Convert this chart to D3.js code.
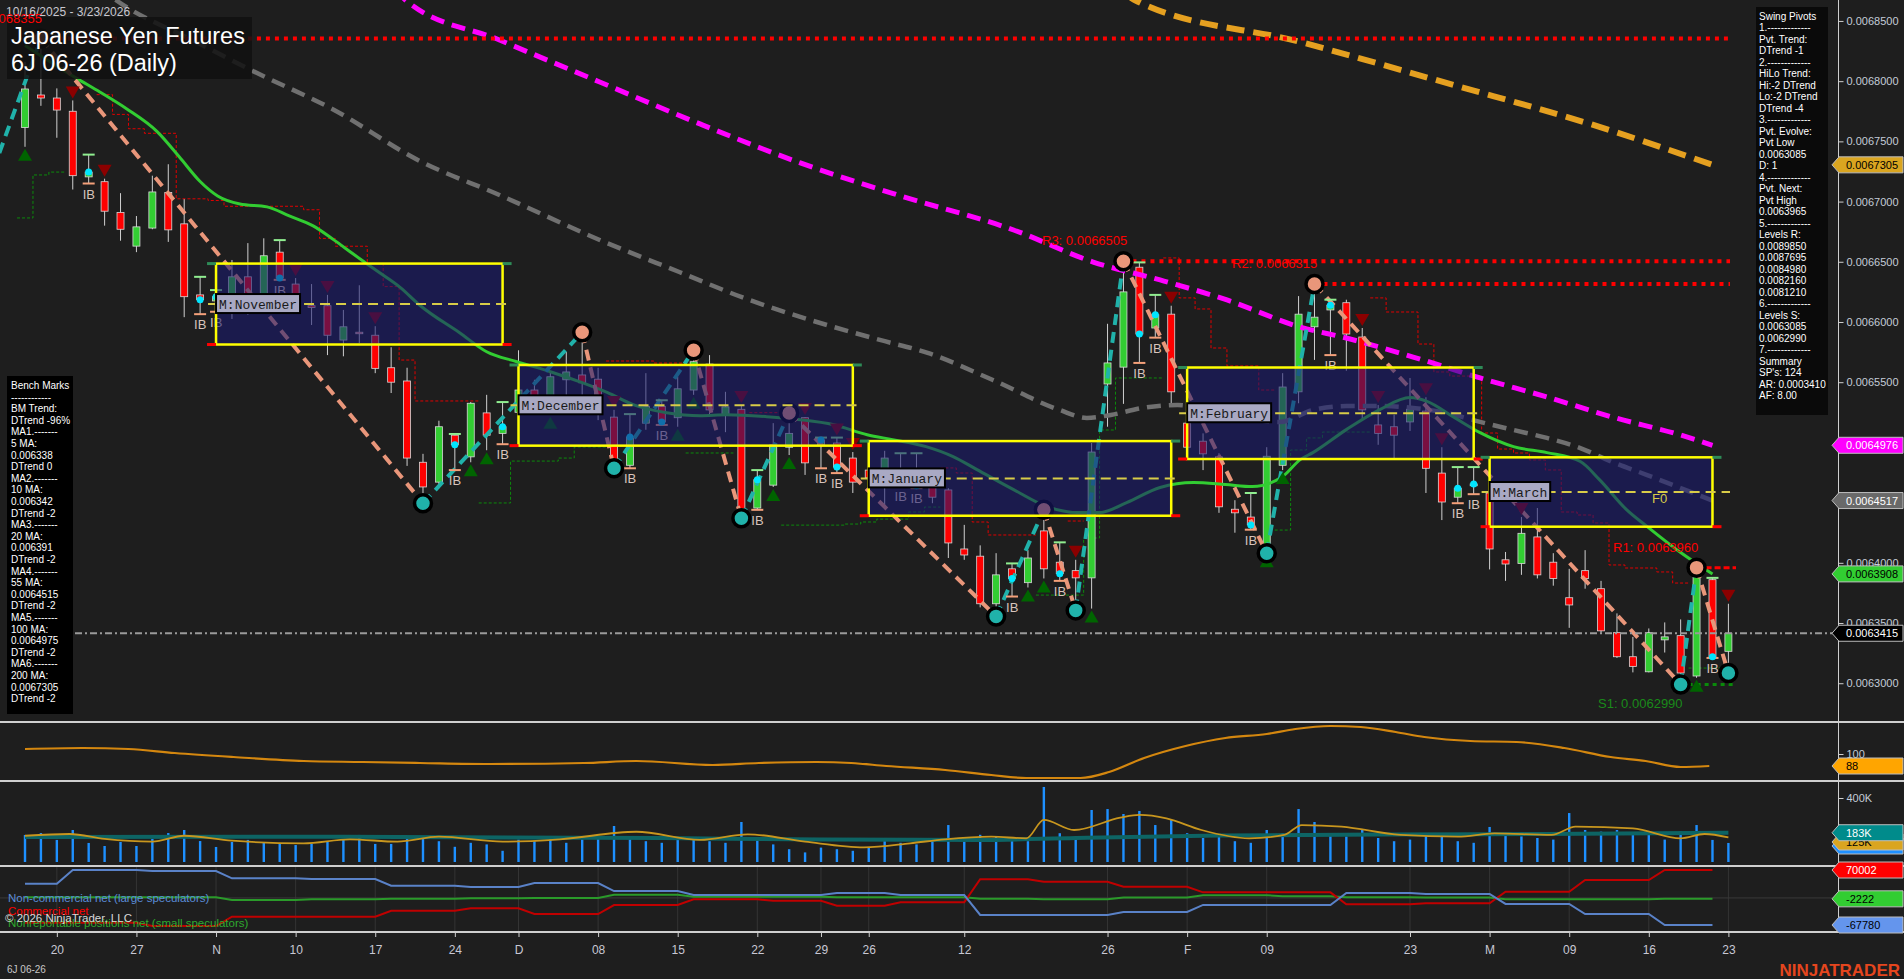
<!DOCTYPE html>
<html><head><meta charset="utf-8">
<script src="https://cdn.jsdelivr.net/npm/d3@7/dist/d3.min.js"></script>
<style>
html,body{margin:0;padding:0;background:#1e1e1e;overflow:hidden}
svg{display:block}
text{font-family:"Liberation Sans",Arial,sans-serif}
</style></head><body>
<svg id="chart" width="1904" height="979"></svg>
<script>
// ---------------- DATA ----------------
const dates = ["2025-10-16","2025-10-17","2025-10-20","2025-10-21","2025-10-22","2025-10-23","2025-10-24","2025-10-27","2025-10-28","2025-10-29","2025-10-30","2025-10-31",
"2025-11-03","2025-11-04","2025-11-05","2025-11-06","2025-11-07","2025-11-10","2025-11-11","2025-11-12","2025-11-13","2025-11-14","2025-11-17","2025-11-18","2025-11-19","2025-11-20","2025-11-21","2025-11-24","2025-11-25","2025-11-26","2025-11-28",
"2025-12-01","2025-12-02","2025-12-03","2025-12-04","2025-12-05","2025-12-08","2025-12-09","2025-12-10","2025-12-11","2025-12-12","2025-12-15","2025-12-16","2025-12-17","2025-12-18","2025-12-19","2025-12-22","2025-12-23","2025-12-24","2025-12-26","2025-12-29","2025-12-30","2025-12-31",
"2026-01-02","2026-01-05","2026-01-06","2026-01-07","2026-01-08","2026-01-09","2026-01-12","2026-01-13","2026-01-14","2026-01-15","2026-01-16","2026-01-20","2026-01-21","2026-01-22","2026-01-23","2026-01-26","2026-01-27","2026-01-28","2026-01-29","2026-01-30",
"2026-02-02","2026-02-03","2026-02-04","2026-02-05","2026-02-06","2026-02-09","2026-02-10","2026-02-11","2026-02-12","2026-02-13","2026-02-17","2026-02-18","2026-02-19","2026-02-20","2026-02-23","2026-02-24","2026-02-25","2026-02-26","2026-02-27",
"2026-03-02","2026-03-03","2026-03-04","2026-03-05","2026-03-06","2026-03-09","2026-03-10","2026-03-11","2026-03-12","2026-03-13","2026-03-16","2026-03-17","2026-03-18","2026-03-19","2026-03-20","2026-03-23"];

const tickDates = ["2025-10-20","2025-10-27","2025-11-03","2025-11-10","2025-11-17","2025-11-24","2025-12-01","2025-12-08","2025-12-15","2025-12-22","2025-12-29","2026-01-02","2026-01-12","2026-01-26","2026-02-02","2026-02-09","2026-02-23","2026-03-02","2026-03-09","2026-03-16","2026-03-23"];
const tickLabels = ["20","27","N","10","17","24","D","08","15","22","29","26","12","26","F","09","23","M","09","16","23"];

const open = [0.0067615,0.0067885,0.0067860,0.0067750,0.0067205,0.0067165,0.0066910,0.0066630,0.0066780,0.0067075,
0.0066815,0.0066225,0.0066175,0.0066150,0.0066375,0.0066175,0.0066580,0.0066315,0.0066135,0.0066135,
0.0065850,0.0065915,0.0065890,0.0065620,0.0065510,0.0064835,0.0064670,0.0065060,0.0064880,0.0065245,
0.0065075,0.0065250,0.0065435,0.0065270,0.0065520,0.0065560,0.0065525,0.0065210,0.0064810,0.0065160,
0.0065300,0.0065205,0.0065435,0.0065650,0.0065230,0.0065275,0.0064455,0.0064645,0.0064960,0.0065205,
0.0064980,0.0064995,0.0064870,0.0064770,0.0064645,0.0064770,0.0064715,0.0064630,0.0064605,0.0064115,
0.0064055,0.0063660,0.0063950,0.0063835,0.0064265,0.0064005,0.0063935,0.0063875,0.0065485,0.0065625,
0.0066455,0.0065950,0.0066065,0.0065160,0.0065010,0.0064880,0.0064445,0.0064380,0.0064130,0.0064810,
0.0065420,0.0065960,0.0066100,0.0066160,0.0065875,0.0065145,0.0065130,0.0065170,0.0065260,0.0064745,
0.0064545,0.0064640,0.0064580,0.0064025,0.0063995,0.0064215,0.0064005,0.0063710,0.0063935,0.0063785,
0.0063420,0.0063220,0.0063095,0.0063360,0.0063395,0.0063060,0.0063860,0.0063265];
const high = [0.0068160,0.0068355,0.0067940,0.0067840,0.0067390,0.0067190,0.0067070,0.0066880,0.0067215,0.0067310,
0.0067020,0.0066375,0.0066265,0.0066515,0.0066655,0.0066695,0.0066680,0.0066365,0.0066315,0.0066225,
0.0066100,0.0066305,0.0065965,0.0065790,0.0065620,0.0064905,0.0065180,0.0065070,0.0065335,0.0065395,
0.0065335,0.0065765,0.0065520,0.0065585,0.0065750,0.0065915,0.0065620,0.0065270,0.0065235,0.0065575,
0.0065350,0.0065545,0.0065765,0.0065725,0.0065420,0.0065310,0.0064770,0.0065160,0.0065245,0.0065210,
0.0065040,0.0065040,0.0064920,0.0064895,0.0064930,0.0064910,0.0064910,0.0064670,0.0064620,0.0064315,
0.0064145,0.0064080,0.0063995,0.0064105,0.0064440,0.0064170,0.0064025,0.0064995,0.0065985,0.0066505,
0.0066495,0.0066225,0.0066135,0.0065230,0.0065075,0.0064910,0.0064520,0.0064580,0.0064960,0.0065575,
0.0066215,0.0066315,0.0066185,0.0066185,0.0065950,0.0065310,0.0065230,0.0065535,0.0065375,0.0064960,
0.0064795,0.0064795,0.0064665,0.0064090,0.0064380,0.0064455,0.0064080,0.0063950,0.0064105,0.0063850,
0.0063580,0.0063385,0.0063455,0.0063505,0.0063530,0.0063960,0.0063875,0.0063660];
const low = [0.0067455,0.0067795,0.0067530,0.0067100,0.0067150,0.0066800,0.0066675,0.0066580,0.0066770,0.0066665,
0.0066040,0.0066065,0.0066085,0.0066025,0.0066060,0.0066165,0.0066350,0.0066085,0.0065975,0.0065725,
0.0065715,0.0065825,0.0065575,0.0065410,0.0064805,0.0064495,0.0064620,0.0064770,0.0064835,0.0064935,
0.0064985,0.0065185,0.0065230,0.0065230,0.0065350,0.0065375,0.0065185,0.0064785,0.0064785,0.0065105,
0.0065145,0.0065130,0.0065395,0.0065230,0.0065085,0.0064370,0.0064440,0.0064630,0.0064895,0.0064730,
0.0064785,0.0064745,0.0064580,0.0064605,0.0064465,0.0064640,0.0064620,0.0064495,0.0064040,0.0064025,
0.0063630,0.0063555,0.0063720,0.0063795,0.0063870,0.0063850,0.0063605,0.0063620,0.0065130,0.0065320,
0.0065660,0.0065870,0.0065320,0.0064880,0.0064770,0.0064415,0.0064250,0.0064275,0.0064080,0.0064770,
0.0065325,0.0065685,0.0065725,0.0065595,0.0065185,0.0064980,0.0064855,0.0065095,0.0064580,0.0064355,
0.0064495,0.0064570,0.0063945,0.0063850,0.0063900,0.0063870,0.0063810,0.0063460,0.0063785,0.0063420,
0.0063210,0.0063090,0.0063090,0.0063255,0.0062990,0.0063045,0.0063210,0.0063085];
const close = [0.0067935,0.0067860,0.0067760,0.0067215,0.0067245,0.0066920,0.0066770,0.0066790,0.0067080,0.0066765,
0.0066210,0.0066185,0.0066210,0.0066375,0.0066165,0.0066550,0.0066365,0.0066165,0.0066120,0.0065890,
0.0065960,0.0065910,0.0065615,0.0065500,0.0064870,0.0064630,0.0065130,0.0064980,0.0065325,0.0065060,
0.0065130,0.0065435,0.0065250,0.0065545,0.0065585,0.0065495,0.0065370,0.0064855,0.0065045,0.0065300,
0.0065170,0.0065445,0.0065670,0.0065270,0.0065295,0.0064445,0.0064690,0.0064980,0.0065075,0.0064830,
0.0065020,0.0064795,0.0064670,0.0064705,0.0064870,0.0064730,0.0064640,0.0064545,0.0064165,0.0064065,
0.0063660,0.0063900,0.0063870,0.0064040,0.0063950,0.0063910,0.0063875,0.0064920,0.0065660,0.0066250,
0.0065900,0.0066060,0.0065420,0.0064960,0.0064905,0.0064465,0.0064415,0.0064315,0.0064885,0.0065460,
0.0066065,0.0066040,0.0066140,0.0065900,0.0065270,0.0065075,0.0065060,0.0065275,0.0064785,0.0064505,
0.0064620,0.0064655,0.0064115,0.0063990,0.0064245,0.0063900,0.0063870,0.0063650,0.0063870,0.0063435,
0.0063220,0.0063140,0.0063420,0.0063385,0.0063085,0.0063935,0.0063220,0.0063415];

// volume in thousands
const volume = [169,181,138,200,119,100,125,100,144,181,200,131,94,125,138,119,119,106,113,131,138,169,113,113,144,
150,130,95,120,110,70,140,130,150,120,140,150,225,160,130,120,140,150,130,120,250,140,110,80,60,90,80,70,90,140,
120,110,130,231,150,170,160,140,130,469,180,150,325,331,300,319,231,263,180,150,160,130,120,200,180,331,250,180,160,200,
150,130,140,180,170,130,120,219,170,160,150,140,306,200,190,200,170,180,140,190,231,138,119];
const volAvgSlow = [[0,156],[20,158],[40,150],[50,140],[60,138],[66,150],[75,165],[85,172],[95,175],[107,183]];
const volAvgFast = [[0,164],[2.8,175],[5,144],[8,127],[10,164],[13,133],[17.5,117],[20.4,142],[23.4,127],[26,158],[30,127],[33.6,142],[38.4,189],[42.4,138],[45.4,173],[49,127],[52.7,92],[55.6,117],[57.8,142],[60.7,158],[62.9,148],[64,263],[65.9,200],[68.8,277],[70,294],[71.7,273],[73.9,200],[76.9,148],[79.1,169],[80.2,231],[82.7,221],[86.4,169],[90,158],[92.3,179],[95.9,169],[97.4,221],[101,210],[104,148],[105.5,175],[107,154]];

// moving averages [barIndex, price]
const ma20 = [[0,0.0068297],[3.2,0.0068027],[4.7,0.006791],[6.4,0.0067769],[8.3,0.0067581],[9.7,0.006737],[11,0.0067167],[12.1,0.0067047],[13.5,0.006698],[15.2,0.0066956],[16.6,0.0066881],[18.1,0.0066798],[19.4,0.0066682],[20.6,0.0066566],[22.1,0.0066425],[23.6,0.0066284],[24.8,0.0066139],[27.3,0.0065911],[29,0.0065753],[30.9,0.006567],[33,0.0065587],[35,0.0065496],[36.6,0.0065413],[38.2,0.0065314],[40.3,0.0065247],[42.4,0.0065222],[44.1,0.006523],[46.6,0.0065214],[48.7,0.0065189],[50.8,0.0065147],[52.9,0.0065064],[54.5,0.0065023],[56.6,0.0064965],[58.3,0.0064882],[59.8,0.0064774],[62.1,0.0064608],[64.2,0.0064467],[66.1,0.0064417],[67.5,0.0064417],[69.2,0.00645],[71.3,0.0064625],[73.4,0.0064666],[75.4,0.006465],[77.1,0.0064633],[79,0.0064716],[80.1,0.0064857],[80.9,0.0064915],[83,0.0065106],[85.1,0.0065272],[87,0.0065372],[88.1,0.0065339],[89.7,0.0065214],[91.4,0.0065081],[93.5,0.0064965],[95.6,0.0064915],[97.7,0.0064841],[98.9,0.0064691],[100.6,0.0064442],[101.9,0.0064301],[104,0.0064085],[106,0.0063908]];
const ma55 = [[3.5,0.00689],[5.7,0.0068674],[11,0.0068309],[14.3,0.0068085],[19.3,0.0067769],[24.8,0.0067337],[29.8,0.0067055],[36.1,0.0066681],[41.1,0.0066415],[45.5,0.0066183],[48.7,0.0066042],[53.7,0.0065851],[56.7,0.0065743],[60.8,0.0065518],[65,0.0065269],[66.7,0.0065203],[68.2,0.0065228],[70.2,0.0065286],[72.4,0.0065311],[74.4,0.0065269],[78.8,0.006517],[80.9,0.0065269],[83,0.0065302],[85.1,0.0065302],[87.2,0.0065286],[89.3,0.0065244],[91.4,0.006517],[93.5,0.0065103],[95.6,0.0065037],[97.7,0.0064953],[99.7,0.0064837],[101.9,0.0064729],[104,0.0064621],[106,0.0064517]];
const ma100 = [[22.5,0.00689],[23.9,0.0068674],[29.8,0.0068342],[36.1,0.0067993],[42.4,0.0067645],[48.7,0.0067321],[55,0.0067047],[62.1,0.0066764],[67.1,0.0066498],[71.3,0.0066349],[75.5,0.0066183],[80.1,0.0065958],[83,0.0065867],[87.2,0.0065709],[91.4,0.0065535],[95.6,0.0065377],[99.7,0.0065211],[104,0.0065061],[106,0.0064976]];
const ma200 = [[68,0.00689],[69.7,0.0068674],[80.1,0.0068326],[89.5,0.0067977],[98.9,0.006762],[106,0.0067305]];

// swing pivots
const pivotIdx = [-2,1,25,35,37,42,45,48,61,64,66,69,78,81,104,105,107];
const pivotPrice = [0.0067262,0.0068355,0.0064495,0.0065915,0.0064785,0.0065765,0.006437,0.0065245,0.0063555,0.006444,0.0063605,0.0066505,0.006408,0.0066315,0.006299,0.006396,0.0063085];
const pivotType = ["L","H","L","H","L","H","L","H","L","H","L","H","L","H","L","H","L"];

// trailing stop steps [fromBar, toBar, price]
const redStop = [[5,5,0.0067888],[6,6,0.0067724],[7,7,0.0067605],[8,9,0.0067567],[10,11,0.0067023],[12,12,0.0067009],[13,17,0.0066961],[18,18,0.0066932],[19,19,0.0066694],[20,21,0.0066629],[22,22,0.0066486],[23,23,0.0066294],[24,24,0.0065684],[25,28,0.0065344],
[37,39,0.0065676],[40,41,0.0065659],[46,47,0.0065247],[58,58,0.0064788],[59,59,0.0064746],[60,60,0.0064339],[61,63,0.0064231],[66,66,0.0064347],
[72,72,0.0066532],[73,73,0.00662],[74,74,0.0066108],[75,75,0.0065784],[76,77,0.0065635],[78,78,0.0065435],
[85,85,0.00662],[86,87,0.0066083],[88,88,0.0065817],[89,89,0.0065585],[90,91,0.0065551],[92,92,0.0065078],[93,93,0.0064945],[94,94,0.0064912],[95,95,0.0064854],[96,96,0.0064771],[97,97,0.0064422],[98,98,0.0064397],[99,99,0.0064331],[100,100,0.0063982],[101,102,0.0063957],[103,103,0.0063924],[104,104,0.0063832]];
const greenStop = [[0,0,0.0066864],[1,1,0.0067221],[2,2,0.0067245],[29,30,0.0064497],[31,33,0.0064845],[34,34,0.006487],[35,36,0.0064962],[42,44,0.0064912],
[48,51,0.0064313],[52,52,0.0064322],[53,53,0.0064339],[54,55,0.0064363],[56,56,0.0064422],[57,57,0.0064463],[64,66,0.0063732],[67,67,0.0064206],[68,68,0.0065103],[69,71,0.0065535],
[79,79,0.0064272],[80,80,0.0064937],[81,81,0.0065037],[82,84,0.0065086],[105,106,0.0063126]];

// bar markers
const insideBars = [4,11,12,16,27,30,38,40,46,50,51,55,56,62,65,70,71,77,82,90,91,106];
const downTriBars = [3,5,17,19,22,37,45,49,51,52,57,66,72,84,85,88,89,94,107];
const upTriBars = [0,28,29,33,34,41,42,47,48,63,64,67,78,79,105];

// monthly boxes
const boxNames = ["November","December","January","February","March"];
const boxStart = [12,31,53,73,92];
const boxEnd = [30,52,72,91,106];
const boxTop = [0.0066485,0.0065643,0.0065011,0.0065622,0.0064876];
const boxBottom = [0.0065813,0.0064973,0.0064391,0.0064862,0.00643];

// levels
const levelTop = 0.0068355;
const levelR3 = 0.0066505, levelR2 = 0.0066315, levelR1 = 0.006396, levelS1 = 0.006299;
const lastPrice = 0.0063415;

// oscillator panel
const osc = [[0,105],[3.6,106],[6.5,105],[9.4,101],[13.1,97],[17.5,93],[21.2,92],[24.8,91],[29.2,90],[35.1,91],[38.4,93],[43.2,89],[46.1,91],[49.7,92],[51.9,91],[54.1,88],[57.8,84],[60.7,79],[62.9,76],[66.3,76],[68.1,82],[70.3,96],[72.9,108],[75.4,116],[78,120],[79.8,125],[82,128],[83.9,127],[86.1,122],[87.9,117],[90.8,113],[93.7,112],[96.7,106],[99.6,97],[101.8,93],[104,87],[105.8,88]];

// COT weekly (thousands of contracts)
const cotIdx = [0,3,8,13,18,23,28,32,37,42,47,51,55,60,64,69,74,79,83,88,93,98,103];
const cotNonComm = [35.6,69.9,67.4,49.1,47.3,30.6,27.3,37.3,17.3,7.3,7.3,12.3,7.3,-42.6,-42.6,-35.1,-17.5,-17.5,12.3,10.0,-15.0,-40.3,-67.78];
const cotComm = [-62,-62,-70.4,-47.1,-47.1,-32.1,-26.0,-40.3,-17.8,-3.5,-7.0,-19.5,-11.0,46.8,40.6,28.0,14.0,14.0,-16.0,-13.5,15.5,44.8,70.002];
const cotNonRep = [1.5,1.5,1.5,-5.0,-3.0,-2.0,-1.0,0.0,8.0,3.0,3.0,2.0,2.0,-2.0,-3.0,1.0,7.0,4.0,2.0,1.0,-3.5,-3.0,-2.222];

const priceTicks = [0.0063,0.00635,0.0064,0.00645,0.0065,0.00655,0.0066,0.00665,0.0067,0.00675,0.0068,0.00685];

const benchLines = ["Bench Marks","------------","BM Trend:","DTrend -96%","MA1.-------","5 MA:","0.006338","DTrend 0","MA2.-------","10 MA:","0.006342","DTrend -2","MA3.-------","20 MA:","0.006391","DTrend -2","MA4.-------","55 MA:","0.0064515","DTrend -2","MA5.-------","100 MA:","0.0064975","DTrend -2","MA6.-------","200 MA:","0.0067305","DTrend -2"];
const swingLines = ["Swing Pivots","1.-------------","Pvt. Trend:","DTrend -1","2.-------------","HiLo Trend:","Hi:-2 DTrend","Lo:-2 DTrend","DTrend -4","3.-------------","Pvt. Evolve:","Pvt Low","0.0063085","D: 1","4.-------------","Pvt. Next:","Pvt High","0.0063965","5.-------------","Levels R:","0.0089850","0.0087695","0.0084980","0.0082160","0.0081210","6.-------------","Levels S:","0.0063085","0.0062990","7.-------------","Summary","SP's: 124","AR: 0.0003410","AF: 8.00"];

// ---------------- DRAW ----------------
const svg = d3.select("#chart");
const x = d3.scaleLinear().domain([0,107]).range([25,1728.4]);
const y = d3.scaleLinear().domain([0.0062678,0.0068674]).range([722,0]);
const oy = d3.scaleLinear().domain([73,132]).range([781,722]);
const vy = d3.scaleLinear().domain([0,400]).range([862,798]);
const cy = d3.scaleLinear().domain([-67.78,70.002]).range([925,870]);
const fmt7 = d3.format(".7f");
const idxOf = d => dates.indexOf(d);

svg.append("rect").attr("width",1904).attr("height",979).attr("fill","#1e1e1e");
const defs = svg.append("defs");
[["cMain",0,0,1838,722],["cOsc",0,722,1838,59],["cVol",0,781,1838,85],["cCot",0,866,1838,66]].forEach(c=>{
  defs.append("clipPath").attr("id",c[0]).append("rect").attr("x",c[1]).attr("y",c[2]).attr("width",c[3]).attr("height",c[4]);
});

const main = svg.append("g").attr("clip-path","url(#cMain)");
const bars = dates.map((d,i)=>({i,d,o:open[i],h:high[i],l:low[i],c:close[i]}));

// stop lines
function stepRuns(segs){
  const runs=[]; let cur=null, lastEnd=-99;
  segs.forEach(([a,b,p])=>{
    if(cur && lastEnd===a-1){ cur.push([a-0.5,p],[b+0.5,p]); }
    else { cur=[[a-0.5,p],[b+0.5,p]]; runs.push(cur); }
    lastEnd=b;
  });
  return runs;
}
const lineXY = d3.line().x(d=>x(d[0])).y(d=>y(d[1]));
main.append("g").selectAll("path").data(stepRuns(redStop)).join("path")
  .attr("d",lineXY).attr("fill","none").attr("stroke","#e00000").attr("stroke-width",1).attr("stroke-dasharray","3 2");
main.append("g").selectAll("path").data(stepRuns(greenStop)).join("path")
  .attr("d",lineXY).attr("fill","none").attr("stroke","#0c8a0c").attr("stroke-width",1).attr("stroke-dasharray","3 2");

// candles
const gC = main.append("g");
gC.selectAll("line").data(bars).join("line")
  .attr("x1",b=>x(b.i)).attr("x2",b=>x(b.i)).attr("y1",b=>y(b.h)).attr("y2",b=>y(b.l))
  .attr("stroke","#d0d0d0").attr("stroke-width",1);
gC.selectAll("rect").data(bars).join("rect")
  .attr("x",b=>x(b.i)-3.5).attr("width",7)
  .attr("y",b=>y(Math.max(b.o,b.c))).attr("height",b=>Math.max(1.5,Math.abs(y(b.o)-y(b.c))))
  .attr("fill",b=>b.c>=b.o?"#32cd32":"#ff0000").attr("stroke","#d8d8d8").attr("stroke-width",0.8);

// moving averages
const maLine = d3.line().x(d=>x(d[0])).y(d=>y(d[1])).curve(d3.curveMonotoneX);
main.append("path").attr("d",maLine(ma55)).attr("fill","none").attr("stroke","#707070").attr("stroke-width",4.5).attr("stroke-dasharray","14 8");
main.append("path").attr("d",maLine(ma100)).attr("fill","none").attr("stroke","#ff00ff").attr("stroke-width",5).attr("stroke-dasharray","14 8");
main.append("path").attr("d",maLine(ma200)).attr("fill","none").attr("stroke","#e5a020").attr("stroke-width",6).attr("stroke-dasharray","18 9");
main.append("path").attr("d",maLine(ma20)).attr("fill","none").attr("stroke","#32cd32").attr("stroke-width",3);

// resistance / support levels
function hLevel(p,i0,x1,color,w,dash){
  main.append("line").attr("x1",x(i0)).attr("x2",x1).attr("y1",y(p)).attr("y2",y(p))
    .attr("stroke",color).attr("stroke-width",w).attr("stroke-dasharray",dash);
}
hLevel(levelTop,1,1730,"#ff0000",4,"4 5");
hLevel(levelR3,69,1730,"#ff0000",4,"4 5");
hLevel(levelR2,81,1730,"#ff0000",4,"4 5");
hLevel(levelR1,105,1736,"#ff0000",3,"6 3");
hLevel(levelS1,104,1736,"#0a8a0a",3,"4 4");

// zigzag
const legs = d3.range(pivotIdx.length-1);
main.append("g").selectAll("line").data(legs).join("line")
  .attr("x1",k=>x(pivotIdx[k])).attr("y1",k=>y(pivotPrice[k]))
  .attr("x2",k=>x(pivotIdx[k+1])).attr("y2",k=>y(pivotPrice[k+1]))
  .attr("stroke",k=>pivotType[k]==="L"?"#20b2aa":"#e9967a")
  .attr("stroke-width",4).attr("stroke-dasharray","11 7");

// triangles
const gM = main.append("g");
gM.selectAll("path.dn").data(downTriBars).join("path").attr("class","dn")
  .attr("d",i=>{const cx=x(i), b=y(high[i])-2; return `M${cx-7},${b-12}L${cx+7},${b-12}L${cx},${b}Z`;})
  .attr("fill","#8b0000");
gM.selectAll("path.up").data(upTriBars).join("path").attr("class","up")
  .attr("d",i=>{const cx=x(i), t=y(low[i])+2; return `M${cx-7},${t+12}L${cx+7},${t+12}L${cx},${t}Z`;})
  .attr("fill","#006400");

// inside bars
const gIB = main.append("g");
insideBars.forEach(i=>{
  const cx=x(i);
  gIB.append("line").attr("x1",cx-6).attr("x2",cx+6).attr("y1",y(high[i])).attr("y2",y(high[i])).attr("stroke","#90ee90").attr("stroke-width",2);
  gIB.append("line").attr("x1",cx-6).attr("x2",cx+6).attr("y1",y(low[i])).attr("y2",y(low[i])).attr("stroke","#f4a07a").attr("stroke-width",2);
  gIB.append("circle").attr("cx",cx).attr("cy",y(close[i])).attr("r",3.5).attr("fill","#00e5ff");
  gIB.append("text").attr("x",cx-6).attr("y",y(low[i])+15).text("IB").attr("fill","#d8c4bc").attr("font-size",13);
});

// pivot circles
main.append("g").selectAll("circle").data(d3.range(1,pivotIdx.length)).join("circle")
  .attr("cx",k=>x(pivotIdx[k])).attr("cy",k=>y(pivotPrice[k])).attr("r",8.5)
  .attr("fill",k=>pivotType[k]==="H"?"#e9967a":"#20b2aa").attr("stroke","#000").attr("stroke-width",3.5);

// month boxes (overlay)
const gB = main.append("g");
boxNames.forEach((nm,k)=>{
  const x0=x(boxStart[k]), x1=x(boxEnd[k]), yt=y(boxTop[k]), yb=y(boxBottom[k]);
  const ym=y((boxTop[k]+boxBottom[k])/2);
  gB.append("rect").attr("x",x0).attr("y",yt).attr("width",x1-x0).attr("height",yb-yt)
    .attr("fill","#191970").attr("fill-opacity",0.58).attr("stroke","#ffff00").attr("stroke-width",2.5);
  [[x0-9,x0],[x1,x1+9]].forEach(s=>{
    gB.append("line").attr("x1",s[0]).attr("x2",s[1]).attr("y1",yt).attr("y2",yt).attr("stroke","#2e8b57").attr("stroke-width",3);
    gB.append("line").attr("x1",s[0]).attr("x2",s[1]).attr("y1",yb).attr("y2",yb).attr("stroke","#ff0000").attr("stroke-width",3);
  });
  gB.append("line").attr("x1",x0-8).attr("x2",k===4?1730:x1+8).attr("y1",ym).attr("y2",ym)
    .attr("stroke","#d8cc48").attr("stroke-width",2).attr("stroke-dasharray","10 6");
  const label="M:"+nm, w=label.length*7.8+6;
  gB.append("rect").attr("x",x0).attr("y",ym-10).attr("width",w).attr("height",19)
    .attr("fill","#a9a9c4").attr("stroke","#000").attr("stroke-width",2);
  gB.append("text").attr("x",x0+3).attr("y",ym+4.5).text(label).attr("fill","#1a1a1a")
    .attr("font-size",13).style("font-family","'Liberation Mono','Courier New',monospace");
});
gB.append("text").attr("x",1652).attr("y",503).text("F0").attr("fill","#d8cc48").attr("font-size",13);

// last price dash-dot
main.append("line").attr("x1",75).attr("x2",1838).attr("y1",y(lastPrice)).attr("y2",y(lastPrice))
  .attr("stroke","#9a9a9a").attr("stroke-width",1.8).attr("stroke-dasharray","7 3 2 3");

// level labels
main.append("text").attr("x",1042).attr("y",y(levelR3)-16).text("R3: "+fmt7(levelR3)).attr("fill","#ff0000").attr("font-size",13);
main.append("text").attr("x",1232).attr("y",y(levelR2)-16).text("R2: "+fmt7(levelR2)).attr("fill","#ff0000").attr("font-size",13);
main.append("text").attr("x",1613).attr("y",y(levelR1)-16).text("R1: "+fmt7(levelR1)).attr("fill","#ff0000").attr("font-size",13);
main.append("text").attr("x",1598).attr("y",y(levelS1)+24).text("S1: "+fmt7(levelS1)).attr("fill","#1a8a1a").attr("font-size",13);

// ---------- oscillator panel ----------
const gO = svg.append("g").attr("clip-path","url(#cOsc)");
gO.append("path").attr("d",d3.line().x(d=>x(d[0])).y(d=>oy(d[1])).curve(d3.curveMonotoneX)(osc))
  .attr("fill","none").attr("stroke","#d4870f").attr("stroke-width",2.2);

// ---------- volume panel ----------
const gV = svg.append("g").attr("clip-path","url(#cVol)");
gV.selectAll("rect").data(bars).join("rect")
  .attr("x",b=>x(b.i)-1.2).attr("width",2.4).attr("y",b=>vy(volume[b.i])).attr("height",b=>vy(0)-vy(volume[b.i]))
  .attr("fill","#1e90ff");
const vLine = d3.line().x(d=>x(d[0])).y(d=>vy(d[1])).curve(d3.curveMonotoneX);
gV.append("path").attr("d",vLine(volAvgSlow)).attr("fill","none").attr("stroke","#0d6464").attr("stroke-width",4);
gV.append("path").attr("d",vLine(volAvgFast)).attr("fill","none").attr("stroke","#c8961e").attr("stroke-width",1.8);

// ---------- COT panel ----------
const gK = svg.append("g").attr("clip-path","url(#cCot)");
gK.selectAll("line.grid").data(tickDates).join("line").attr("class","grid")
  .attr("x1",d=>x(idxOf(d))).attr("x2",d=>x(idxOf(d))).attr("y1",866).attr("y2",932)
  .attr("stroke","#343434").attr("stroke-width",1);
gK.append("line").attr("x1",0).attr("x2",1838).attr("y1",cy(0)).attr("y2",cy(0)).attr("stroke","#3a3a3a");
function cotPts(vals){
  const pts=[];
  vals.forEach((v,k)=>{
    pts.push([cotIdx[k],v]);
    pts.push([k<vals.length-1?cotIdx[k+1]-1:106,v]);
  });
  return pts;
}
const cLine = d3.line().x(d=>x(d[0])).y(d=>cy(d[1]));
gK.append("path").attr("d",cLine(cotPts(cotNonRep))).attr("fill","none").attr("stroke","#2a9a2a").attr("stroke-width",2);
gK.append("path").attr("d",cLine(cotPts(cotComm))).attr("fill","none").attr("stroke","#c00000").attr("stroke-width",2);
gK.append("path").attr("d",cLine(cotPts(cotNonComm))).attr("fill","none").attr("stroke","#5a82c8").attr("stroke-width",2);
const leg = svg.append("g").attr("font-size",11.5);
leg.append("text").attr("x",8).attr("y",902).text("Non-commercial net (large speculators)").attr("fill","#5b8dd9");
leg.append("text").attr("x",8).attr("y",915).text("Commercial net").attr("fill","#ff0000");
leg.append("text").attr("x",8).attr("y",927).text("Nonreportable positions net (small speculators)").attr("fill","#2eaa2e");
leg.append("text").attr("x",5).attr("y",922).text("© 2026 NinjaTrader, LLC").attr("fill","#d8d8d8");

// ---------- separators & axes ----------
[722,781,866,932].forEach(v=>svg.append("line").attr("x1",0).attr("x2",1904).attr("y1",v).attr("y2",v).attr("stroke","#cfcfcf").attr("stroke-width",2));
svg.append("line").attr("x1",1838.5).attr("x2",1838.5).attr("y1",0).attr("y2",932).attr("stroke","#cfcfcf").attr("stroke-width",1);

function styleAxis(g,col,fs){
  g.select(".domain").remove();
  g.selectAll("line").attr("stroke","#cfcfcf");
  g.selectAll("text").attr("fill",col).attr("font-size",fs).style("font-family","'Liberation Sans',Arial,sans-serif");
}
svg.append("g").attr("transform","translate(1838.5,0)")
  .call(d3.axisRight(y).tickValues(priceTicks).tickFormat(fmt7).tickSize(5).tickPadding(3))
  .call(g=>styleAxis(g,"#c4ccd8",11));
svg.append("g").attr("transform","translate(1838.5,0)")
  .call(d3.axisRight(oy).tickValues([100]).tickFormat(d3.format("d")).tickSize(5).tickPadding(3))
  .call(g=>styleAxis(g,"#c4ccd8",11));
svg.append("g").attr("transform","translate(1838.5,0)")
  .call(d3.axisRight(vy).tickValues([0,400]).tickFormat(d=>d?d+"K":"").tickSize(5).tickPadding(3))
  .call(g=>styleAxis(g,"#c4ccd8",11));
svg.append("g").attr("transform","translate(0,932)")
  .call(d3.axisBottom(x).tickValues(tickDates.map(idxOf)).tickFormat((d,k)=>tickLabels[k]).tickSize(5).tickPadding(8))
  .call(g=>styleAxis(g,"#c8c8d4",12));

// flags on axis
function flag(yv,text,bg,fg){
  const g=svg.append("g");
  g.append("path").attr("d",`M1832,${yv}L1839,${yv-8}L1903,${yv-8}L1903,${yv+8}L1839,${yv+8}Z`)
    .attr("fill",bg).attr("stroke","#bdbdbd").attr("stroke-width",1);
  g.append("text").attr("x",1846).attr("y",yv+4).text(text).attr("fill",fg).attr("font-size",11);
}
[[0.0067305,"#daa520","#000"],[0.0064976,"#ff00ff","#fff"],[0.0064517,"#696969","#fff"],[0.0063908,"#32cd32","#000"],[0.0063415,"#000000","#fff"]]
  .forEach(f=>flag(y(f[0]),fmt7(f[0]),f[1],f[2]));
flag(oy(88),"88","#ffa500","#000");
flag(vy(100),"100K","#1e90ff","#fff");
flag(vy(125),"125K","#daa520","#000");
flag(vy(183),"183K","#008b8b","#fff");
flag(cy(70.002),"70002","#ff0000","#fff");
flag(cy(-2.222),"-2222","#32cd32","#000");
flag(cy(-67.78),"-67780","#6495ed","#000");

// ---------- info panels ----------
const bp = svg.append("g");
bp.append("rect").attr("x",7).attr("y",376).attr("width",66).attr("height",338).attr("fill","#000");
bp.selectAll("text").data(benchLines).join("text").attr("x",11).attr("y",(d,k)=>389+k*11.6)
  .text(d=>d).attr("fill","#fff").attr("font-size",10);
const sp = svg.append("g");
sp.append("rect").attr("x",1756).attr("y",7).attr("width",72).attr("height",408).attr("fill","#0a0a0a");
sp.selectAll("text").data(swingLines).join("text").attr("x",1759).attr("y",(d,k)=>19.5+k*11.5)
  .text(d=>d).attr("fill","#fff").attr("font-size",10);

// title
svg.append("rect").attr("x",7).attr("y",17).attr("width",245).attr("height",62).attr("fill","#101010").attr("fill-opacity",0.86);
svg.append("text").attr("x",11).attr("y",43.5).text("Japanese Yen Futures").attr("fill","#fff").attr("font-size",23.5);
svg.append("text").attr("x",11).attr("y",70.5).text("6J 06-26 (Daily)").attr("fill","#fff").attr("font-size",23.5);
svg.append("text").attr("x",6).attr("y",16).text("10/16/2025 - 3/23/2026").attr("fill","#c8c8d0").attr("font-size",12);
svg.append("text").attr("x",42).attr("y",23).attr("text-anchor","end").text(fmt7(levelTop)).attr("fill","#ff0000").attr("font-size",13);

// footer
svg.append("text").attr("x",7).attr("y",973).text("6J 06-26").attr("fill","#c8c8c8").attr("font-size",10);
svg.append("text").attr("x",1900).attr("y",976).attr("text-anchor","end").text("NINJATRADER")
  .attr("fill","#e5461e").attr("font-size",17).attr("font-weight","bold");
</script>
</body></html>
